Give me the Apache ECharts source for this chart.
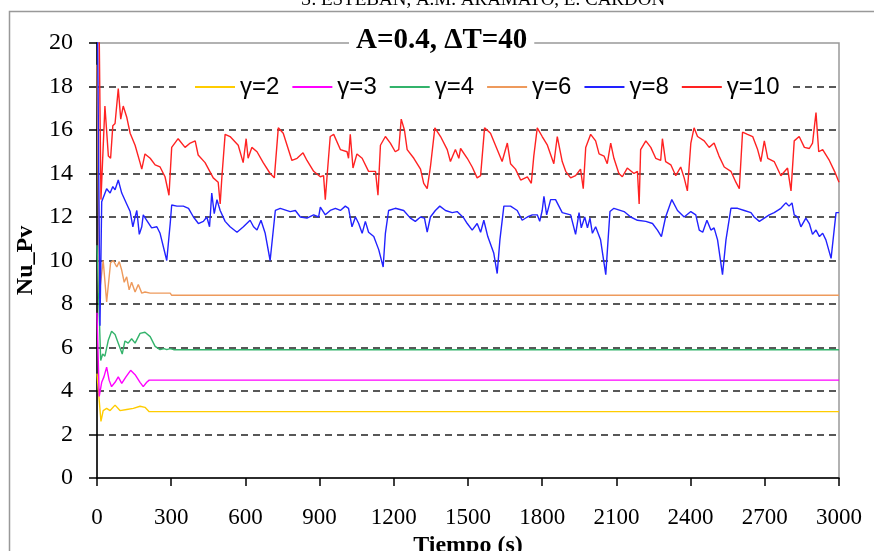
<!DOCTYPE html>
<html>
<head>
<meta charset="utf-8">
<script src="https://cdn.jsdelivr.net/npm/echarts@6/dist/echarts.min.js"></script>
<style>html,body{margin:0;padding:0;background:#fff}#c{width:874px;height:551px}</style>
</head>
<body>
<div id="c"></div>
<script>
// Time ticks (s) and y ticks
var xTicks = [0,300,600,900,1200,1500,1800,2100,2400,2700,3000];
var yTicks = [0,2,4,6,8,10,12,14,16,18,20];
var seriesNames = ['\u03b3=2','\u03b3=3','\u03b3=4','\u03b3=6','\u03b3=8','\u03b3=10'];

// gamma = 2  [t, Nu]
var g2 = [[0,4.8],[16,2.6],[25,3.1],[39,3.2],[53,3.1],[73,3.35],[93,3.1],[120,3.15],[147,3.2],[174,3.3],[194,3.25],[211,3.05],[3000,3.05]];
// gamma = 3
var g3 = [[0,7.6],[9,3.75],[19,4.4],[28,4.65],[39,5.1],[49,4.5],[59,4.2],[73,4.4],[86,4.65],[100,4.35],[117,4.65],[136,4.95],[154,4.75],[174,4.4],[187,4.2],[201,4.4],[211,4.5],[3000,4.5]];
// gamma = 4
var g4 = [[0,10.7],[15,5.4],[23,5.7],[32,5.6],[46,6.35],[59,6.75],[73,6.6],[86,6.2],[102,5.7],[113,6.3],[126,6.2],[140,6.4],[154,6.2],[174,6.65],[194,6.7],[215,6.5],[235,6.05],[255,5.9],[271,5.95],[282,5.9],[296,5.95],[310,5.9],[3000,5.9]];
// gamma = 6
var g6 = [[0,19],[10,8.5],[25,10.0],[39,8.1],[55,9.9],[66,10.0],[80,9.7],[90,9.95],[100,9.55],[110,9.0],[120,9.25],[130,8.65],[140,9.0],[154,8.55],[167,8.9],[181,8.5],[194,8.55],[215,8.5],[242,8.5],[296,8.5],[302,8.4],[3000,8.4]];
// gamma = 8
var g8 = [[0,24],[12,7.0],[19,12.7],[39,13.3],[53,13.1],[64,13.4],[73,13.25],[86,13.7],[100,13.1],[120,12.6],[134,12.25],[145,11.55],[154,12.0],[161,12.3],[171,11.2],[181,11.55],[187,12.1],[201,11.85],[221,11.5],[242,11.55],[255,11.25],[282,10.0],[296,11.7],[302,12.55],[323,12.5],[349,12.5],[370,12.4],[390,12.0],[410,11.7],[430,11.8],[444,12.0],[455,11.55],[464,13.1],[474,12.15],[485,12.8],[498,12.3],[518,11.8],[538,11.55],[566,11.3],[592,11.55],[619,11.85],[633,11.55],[647,11.4],[663,11.85],[680,11.25],[700,10.0],[721,12.3],[741,12.4],[781,12.25],
[802,12.3],[822,12.0],[849,11.95],[876,12.1],[896,12.0],[903,12.45],[923,12.1],[943,12.3],[964,12.4],[984,12.3],[1004,12.5],[1017,12.4],[1031,11.55],[1045,12.0],[1058,11.7],[1072,11.25],[1085,11.8],[1098,11.3],[1119,11.1],[1139,10.5],[1157,9.7],[1166,11.25],[1179,12.3],[1206,12.4],[1240,12.3],[1267,11.95],[1287,11.8],[1308,12.0],[1324,11.95],[1335,11.3],[1348,12.0],[1368,12.3],[1386,12.5],[1409,12.3],[1436,12.2],[1456,12.25],[1483,11.95],[1497,11.7],[1517,11.4],[1537,11.7],[1551,11.3],[1564,11.85],[1580,11.1],[1604,10.35],[1618,9.4],[1629,10.95],[1645,12.5],[1672,12.5],[1699,12.3],[1719,11.85],[1740,12.0],[1760,12.1],[1780,12.1],[1790,11.8],[1800,12.3],[1807,12.95],[1818,12.1],[1834,12.8],[1854,12.8],[1881,12.2],[1915,12.1],
[1935,11.2],[1949,12.2],[1958,11.5],[1972,12.0],[1983,11.5],[1993,11.95],[2003,11.25],[2016,11.55],[2036,10.95],[2057,9.35],[2074,12.25],[2090,12.4],[2131,12.25],[2158,12.0],[2185,11.85],[2219,11.8],[2246,11.7],[2266,11.4],[2282,11.1],[2299,12.0],[2324,12.8],[2347,12.3],[2374,12.0],[2401,12.25],[2421,12.1],[2435,11.4],[2449,11.3],[2466,11.85],[2482,11.4],[2495,11.5],[2509,10.95],[2529,9.35],[2543,10.95],[2563,12.4],[2590,12.4],[2617,12.3],[2644,12.2],[2657,12.0],[2678,11.8],[2698,11.95],[2718,12.1],[2738,12.2],[2765,12.4],[2785,12.65],[2798,12.5],[2810,12.65],[2819,12.1],[2833,12.0],[2846,11.55],[2866,11.95],[2880,11.7],[2893,11.2],[2907,11.4],[2921,11.1],[2934,11.25],[2947,10.95],[2968,10.1],[2988,12.2],[3000,12.2]];
// gamma = 10
var g10 = [[0,30],[16,12.8],[32,17.1],[46,14.8],[55,14.7],[64,16.2],[73,16.3],[86,17.9],[96,16.5],[106,17.1],[120,16.6],[134,15.85],[154,15.3],[174,14.5],[181,14.2],[194,14.9],[215,14.7],[235,14.4],[255,14.3],[275,13.85],[291,13.0],[302,15.2],[328,15.6],[356,15.2],[377,15.4],[397,15.5],[409,14.85],[437,14.5],[470,13.8],[490,13.6],[498,12.6],[505,13.85],[518,15.8],[538,15.7],[571,15.3],[591,14.5],[603,15.6],[611,14.7],[626,15.2],[647,15.0],[672,14.5],[700,14.0],[717,13.8],[733,16.1],[753,15.85],
[788,14.6],[809,14.7],[833,14.95],[849,14.6],[876,14.1],[903,13.85],[916,13.9],[923,12.8],[930,13.85],[943,15.7],[957,15.8],[984,15.1],[1011,15.0],[1017,14.7],[1024,15.8],[1035,14.25],[1051,14.9],[1072,14.7],[1098,14.1],[1126,14.1],[1136,13.0],[1146,15.3],[1166,15.7],[1186,15.4],[1206,15.0],[1220,15.1],[1230,16.5],[1243,16.0],[1254,15.1],[1281,14.7],[1308,14.2],[1321,13.55],[1335,13.3],[1348,14.3],[1366,16.1],[1389,15.7],[1416,15.1],[1429,14.55],[1449,15.1],[1463,14.7],[1470,15.15],[1497,14.7],[1517,14.3],[1537,13.8],[1551,13.9],[1567,16.1],[1591,15.85],[1618,15.1],[1638,14.55],[1659,15.4],[1672,14.45],[1692,14.2],[1713,13.7],[1740,13.85],[1756,13.55],[1766,14.8],[1780,16.1],[1800,15.7],[1821,15.3],[1847,14.45],[1861,15.7],[1881,14.55],
[1895,14.1],[1915,13.8],[1935,13.9],[1955,14.2],[1966,13.3],[1976,15.2],[1996,15.8],[2016,15.5],[2030,14.9],[2050,14.8],[2063,14.45],[2077,15.4],[2090,14.7],[2110,14.0],[2124,13.85],[2144,14.25],[2171,14.0],[2185,14.1],[2192,12.6],[2198,15.1],[2219,15.5],[2239,15.2],[2259,14.7],[2279,14.6],[2286,15.6],[2299,14.55],[2320,14.4],[2340,13.9],[2360,14.3],[2374,13.8],[2387,13.2],[2401,15.4],[2414,16.1],[2428,15.7],[2455,15.5],[2475,15.2],[2495,15.4],[2515,14.8],[2536,14.3],[2563,14.1],[2583,13.6],[2597,13.3],[2610,15.9],[2630,15.8],[2651,15.7],[2671,15.1],[2684,14.55],[2698,15.5],[2712,14.7],[2738,14.55],[2765,13.9],[2792,14.25],[2806,13.2],[2819,15.5],[2839,15.7],[2860,15.2],[2880,15.15],[2893,15.4],[2907,16.8],[2918,15.0],[2934,15.1],[2961,14.6],[2982,14.1],[3000,13.6]];

var colors = ['#FFCC00','#FF00FF','#33B36B','#EE9A5C','#2222FF','#FF2222'];
var allData = [g2,g3,g4,g6,g8,g10];

var chart = echarts.init(document.getElementById('c'), null, {renderer:'canvas'});
var splitColors = yTicks.map(function(v,i){ return (i===0||i===yTicks.length-1)?'rgba(0,0,0,0)':'#222'; });
var serif = 'Liberation Serif, Times New Roman, serif';

chart.setOption({
  animation: false,
  backgroundColor: '#fff',
  color: colors,
  title: {
    text: 'A=0.4, \u0394T=40',
    left: 349, top: 26,
    padding: [0, 7],
    backgroundColor: '#fff',
    textStyle: {fontFamily: serif, fontWeight: 'bold', fontSize: 29, color: '#000'}
  },
  legend: {
    data: seriesNames,
    left: 180, top: 72,
    padding: [3, 10, 3, 15],
    backgroundColor: '#fff',
    itemWidth: 40, itemHeight: 2, itemGap: 13,
    icon: 'rect',
    textStyle: {fontFamily: 'Liberation Sans, Arial, sans-serif', fontSize: 24, color: '#000', lineHeight: 24}
  },
  grid: {left: 97, right: 35, top: 43, bottom: 73, show: true, borderColor: '#999', borderWidth: 1.5, containLabel: false, outerBoundsMode: 'none'},
  xAxis: {
    type: 'value', min: 0, max: 3000, interval: 300,
    name: 'Tiempo (s)', nameLocation: 'middle', nameGap: 46,
    nameTextStyle: {fontFamily: serif, fontWeight: 'bold', fontSize: 24, color: '#000', verticalAlign: 'top'},
    axisLine: {lineStyle: {color: '#000', width: 1.5}},
    axisTick: {length: 8, lineStyle: {color: '#000', width: 1.5}},
    axisLabel: {margin: 28, fontFamily: serif, fontSize: 23, color: '#000', formatter: function(v){ return String(v); }},
    splitLine: {show: false}
  },
  yAxis: {
    type: 'value', min: 0, max: 20, interval: 2,
    name: 'Nu_Pv', nameLocation: 'middle', nameGap: 56, nameRotate: 90,
    nameTextStyle: {fontFamily: serif, fontWeight: 'bold', fontSize: 24, color: '#000'},
    axisLine: {lineStyle: {color: '#000', width: 1.5}},
    axisTick: {length: 8, lineStyle: {color: '#000', width: 1.5}},
    axisLabel: {margin: 24, fontFamily: serif, fontSize: 24, color: '#000', formatter: function(v){ return String(v); }},
    splitLine: {show: true, lineStyle: {color: splitColors, type: [7, 5], width: 1.5}}
  },
  graphic: [
    {type: 'rect', silent: true, z: -10, shape: {x: 9.5, y: 11.5, width: 900, height: 600}, style: {fill: 'none', stroke: '#999', lineWidth: 1.5}},
    {type: 'text', silent: true, x: 483, y: -9, style: {text: 'S. ESTEBAN, A.M. ARAMATO, E. CARDON', font: '19px Liberation Serif', fill: '#000', textAlign: 'center', textVerticalAlign: 'top'}}
  ],
  series: allData.map(function(d, i){
    return {
      name: seriesNames[i], type: 'line', data: d, symbol: 'none', clip: true,
      lineStyle: {width: 1.4, color: colors[i]}, z: 2 + i
    };
  })
});
</script>
</body>
</html>
